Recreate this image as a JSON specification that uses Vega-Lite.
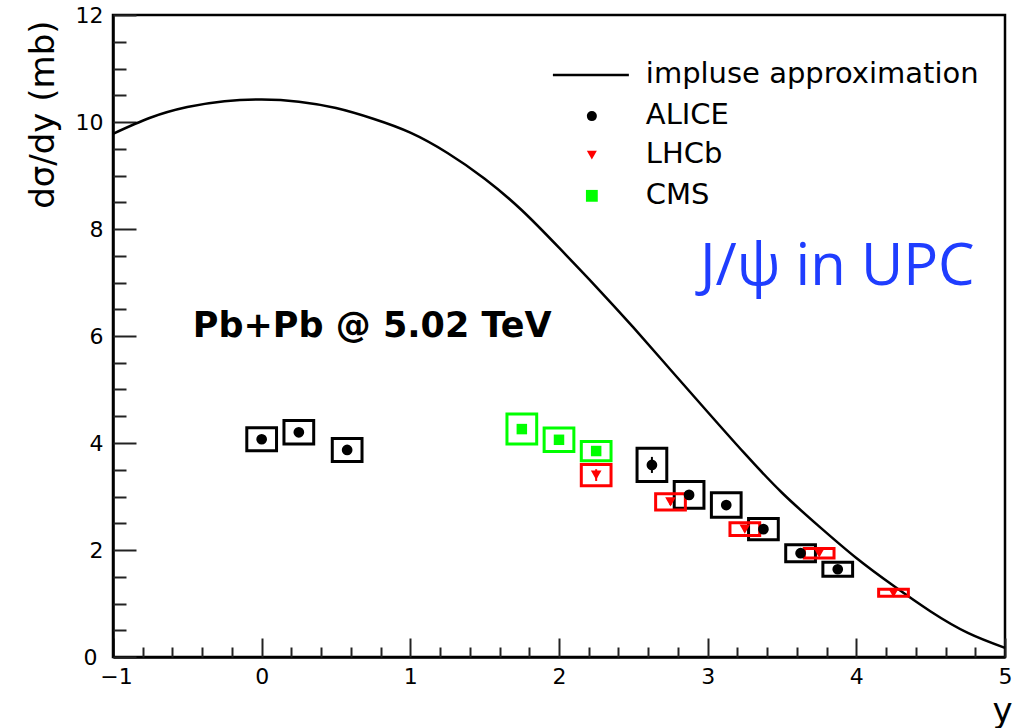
{
  "$schema": "https://vega.github.io/schema/vega-lite/v6.json",
  "width": 892,
  "height": 642,
  "autosize": {"type": "none"},
  "padding": {"left": 113, "top": 15, "right": 8, "bottom": 71},
  "background": "white",
  "config": {
    "view": {"stroke": "black", "strokeWidth": 2.5},
    "font": "DejaVu Sans",
    "axis": {"grid": false, "labelColor": "black", "titleColor": "black", "tickColor": "#222", "tickWidth": 2}
  },
  "datasets": {
    "curve": [
      {"x": -1.0, "y": 9.78}, {"x": -0.75, "y": 10.08}, {"x": -0.5, "y": 10.28}, {"x": -0.25, "y": 10.39},
      {"x": 0.0, "y": 10.42}, {"x": 0.25, "y": 10.38}, {"x": 0.5, "y": 10.26}, {"x": 0.75, "y": 10.06},
      {"x": 1.0, "y": 9.8}, {"x": 1.25, "y": 9.42}, {"x": 1.5, "y": 8.94}, {"x": 1.75, "y": 8.35},
      {"x": 2.0, "y": 7.65}, {"x": 2.25, "y": 6.92}, {"x": 2.5, "y": 6.16}, {"x": 2.75, "y": 5.37},
      {"x": 3.0, "y": 4.58}, {"x": 3.25, "y": 3.8}, {"x": 3.5, "y": 3.07}, {"x": 3.75, "y": 2.44},
      {"x": 4.0, "y": 1.85}, {"x": 4.25, "y": 1.33}, {"x": 4.5, "y": 0.85}, {"x": 4.75, "y": 0.45},
      {"x": 5.0, "y": 0.17}
    ],
    "pts": [
      {"exp": "ALICE", "x": 0.0, "y": 4.07, "xlo": -0.1, "xhi": 0.1, "ylo": 3.855, "yhi": 4.285, "slo": 3.99, "shi": 4.15},
      {"exp": "ALICE", "x": 0.25, "y": 4.2, "xlo": 0.15, "xhi": 0.35, "ylo": 3.98, "yhi": 4.42, "slo": 4.12, "shi": 4.28},
      {"exp": "ALICE", "x": 0.575, "y": 3.87, "xlo": 0.475, "xhi": 0.675, "ylo": 3.655, "yhi": 4.085, "slo": 3.79, "shi": 3.95},
      {"exp": "ALICE", "x": 2.625, "y": 3.59, "xlo": 2.525, "xhi": 2.725, "ylo": 3.28, "yhi": 3.9, "slo": 3.44, "shi": 3.74},
      {"exp": "ALICE", "x": 2.875, "y": 3.03, "xlo": 2.775, "xhi": 2.975, "ylo": 2.78, "yhi": 3.28, "slo": 2.96, "shi": 3.1},
      {"exp": "ALICE", "x": 3.125, "y": 2.84, "xlo": 3.025, "xhi": 3.225, "ylo": 2.61, "yhi": 3.07, "slo": 2.78, "shi": 2.9},
      {"exp": "ALICE", "x": 3.375, "y": 2.39, "xlo": 3.275, "xhi": 3.475, "ylo": 2.19, "yhi": 2.59, "slo": 2.34, "shi": 2.44},
      {"exp": "ALICE", "x": 3.625, "y": 1.94, "xlo": 3.525, "xhi": 3.725, "ylo": 1.78, "yhi": 2.1, "slo": 1.89, "shi": 1.99},
      {"exp": "ALICE", "x": 3.875, "y": 1.64, "xlo": 3.775, "xhi": 3.975, "ylo": 1.51, "yhi": 1.77, "slo": 1.59, "shi": 1.69},
      {"exp": "LHCb", "x": 2.25, "y": 3.4, "xlo": 2.15, "xhi": 2.35, "ylo": 3.2, "yhi": 3.6, "slo": 3.29, "shi": 3.51},
      {"exp": "LHCb", "x": 2.75, "y": 2.9, "xlo": 2.65, "xhi": 2.85, "ylo": 2.75, "yhi": 3.05, "slo": 2.84, "shi": 2.96},
      {"exp": "LHCb", "x": 3.25, "y": 2.39, "xlo": 3.15, "xhi": 3.35, "ylo": 2.27, "yhi": 2.51, "slo": 2.34, "shi": 2.44},
      {"exp": "LHCb", "x": 3.75, "y": 1.94, "xlo": 3.65, "xhi": 3.85, "ylo": 1.85, "yhi": 2.03, "slo": 1.9, "shi": 1.98},
      {"exp": "LHCb", "x": 4.25, "y": 1.2, "xlo": 4.15, "xhi": 4.35, "ylo": 1.135, "yhi": 1.265, "slo": 1.17, "shi": 1.23},
      {"exp": "CMS", "x": 1.75, "y": 4.26, "xlo": 1.65, "xhi": 1.85, "ylo": 3.98, "yhi": 4.54, "slo": 4.2, "shi": 4.32},
      {"exp": "CMS", "x": 2.0, "y": 4.06, "xlo": 1.9, "xhi": 2.1, "ylo": 3.84, "yhi": 4.28, "slo": 4.0, "shi": 4.12},
      {"exp": "CMS", "x": 2.25, "y": 3.85, "xlo": 2.15, "xhi": 2.35, "ylo": 3.67, "yhi": 4.03, "slo": 3.79, "shi": 3.91}
    ]
  },
  "layer": [
    {
      "data": {"name": "curve"},
      "mark": {"type": "line", "color": "black", "strokeWidth": 2.5, "interpolate": "natural"},
      "encoding": {
        "x": {"field": "x", "type": "quantitative", "scale": {"domain": [-1, 5], "nice": false, "zero": false},
          "axis": {"orient": "bottom", "title": "y", "values": [-1, 0, 1, 2, 3, 4, 5], "ticks": false, "labelPadding": 9,
            "labelOffset": {"condition": {"test": "datum.value == -1", "value": 3}, "value": 0},
            "labelFontSize": 22, "labelFlush": false, "labelOverlap": false, "domain": true, "domainColor": "black", "domainWidth": 2.5,
            "titleFontSize": 34, "titleFontWeight": "normal", "titleAnchor": "end", "titleAlign": "right", "titleX": 899, "titleY": 64, "titleBaseline": "alphabetic"}},
        "y": {"field": "y", "type": "quantitative", "scale": {"domain": [0, 12], "nice": false, "zero": false},
          "axis": {"orient": "left", "title": "dσ/dy (mb)", "values": [0, 2, 4, 6, 8, 10, 12], "ticks": false,
            "labelPadding": {"condition": {"test": "datum.value == 0", "value": 16}, "value": 10},
            "labelFontSize": 22, "labelFlush": false, "labelOverlap": false, "domain": true, "domainColor": "black", "domainWidth": 2.5,
            "titleFontSize": 34, "titleFontWeight": "normal", "titleAngle": 270, "titleAnchor": "end", "titleAlign": "right", "titleX": -60, "titleY": 5, "titleBaseline": "alphabetic"}}
      }
    },
    {
      "data": {"name": "pts"},
      "mark": {"type": "rect", "fillOpacity": 0, "strokeWidth": 3},
      "encoding": {
        "x": {"field": "xlo", "type": "quantitative", "scale": {"domain": [-1, 5], "nice": false, "zero": false},
          "axis": {"orient": "bottom", "title": null, "values": [-1, 0, 1, 2, 3, 4, 5], "labels": false, "domain": false, "ticks": true, "tickSize": -19}},
        "x2": {"field": "xhi"},
        "y": {"field": "ylo", "type": "quantitative", "scale": {"domain": [0, 12], "nice": false, "zero": false},
          "axis": {"orient": "left", "title": null, "values": [0, 2, 4, 6, 8, 10, 12], "labels": false, "domain": false, "ticks": true, "tickSize": -23}},
        "y2": {"field": "yhi"},
        "stroke": {"field": "exp", "type": "nominal", "scale": {"domain": ["ALICE", "LHCb", "CMS"], "range": ["black", "#ff0000", "#00ff00"]}, "legend": null}
      }
    },
    {
      "data": {"name": "pts"},
      "mark": {"type": "rule", "strokeWidth": 2},
      "encoding": {
        "x": {"field": "x", "type": "quantitative", "axis": null},
        "y": {"field": "slo", "type": "quantitative", "axis": null},
        "y2": {"field": "shi"},
        "color": {"field": "exp", "type": "nominal", "scale": {"domain": ["ALICE", "LHCb", "CMS"], "range": ["black", "#ff0000", "#00ff00"]}, "legend": null}
      }
    },
    {
      "data": {"name": "pts"},
      "mark": {"type": "point", "filled": true, "opacity": 1},
      "encoding": {
        "x": {"field": "x", "type": "quantitative", "scale": {"domain": [-1, 5], "nice": false, "zero": false},
          "axis": {"orient": "bottom", "title": null, "values": [-0.8, -0.6, -0.4, -0.2, 0.2, 0.4, 0.6, 0.8, 1.2, 1.4, 1.6, 1.8, 2.2, 2.4, 2.6, 2.8, 3.2, 3.4, 3.6, 3.8, 4.2, 4.4, 4.6, 4.8], "labels": false, "domain": false, "ticks": true, "tickSize": -10}},
        "y": {"field": "y", "type": "quantitative", "scale": {"domain": [0, 12], "nice": false, "zero": false},
          "axis": {"orient": "left", "title": null, "values": [0.5, 1, 1.5, 2.5, 3, 3.5, 4.5, 5, 5.5, 6.5, 7, 7.5, 8.5, 9, 9.5, 10.5, 11, 11.5], "labels": false, "domain": false, "ticks": true, "tickSize": -13}},
        "color": {"field": "exp", "type": "nominal", "scale": {"domain": ["ALICE", "LHCb", "CMS"], "range": ["black", "#ff0000", "#00ff00"]}, "legend": null},
        "shape": {"field": "exp", "type": "nominal", "scale": {"domain": ["ALICE", "LHCb", "CMS"], "range": ["circle", "triangle-down", "square"]}, "legend": null},
        "size": {"field": "exp", "type": "nominal", "scale": {"domain": ["ALICE", "LHCb", "CMS"], "range": [115, 110, 150]}, "legend": null}
      }
    },
    {
      "data": {"values": [{}]},
      "mark": {"type": "rule", "color": "black", "strokeWidth": 2.5},
      "encoding": {"x": {"datum": 1.959, "type": "quantitative", "axis": null}, "x2": {"datum": 2.47}, "y": {"datum": 10.88, "type": "quantitative", "axis": null}}
    },
    {
      "data": {"values": [{}]},
      "mark": {"type": "point", "filled": true, "opacity": 1, "shape": "circle", "size": 100, "color": "black"},
      "encoding": {"x": {"datum": 2.221, "type": "quantitative", "axis": null}, "y": {"datum": 10.11, "type": "quantitative", "axis": null}}
    },
    {
      "data": {"values": [{}]},
      "mark": {"type": "point", "filled": true, "opacity": 1, "shape": "triangle-down", "size": 100, "color": "#ff0000"},
      "encoding": {"x": {"datum": 2.221, "type": "quantitative", "axis": null}, "y": {"datum": 9.38, "type": "quantitative", "axis": null}}
    },
    {
      "data": {"values": [{}]},
      "mark": {"type": "point", "filled": true, "opacity": 1, "shape": "square", "size": 140, "color": "#00ff00"},
      "encoding": {"x": {"datum": 2.221, "type": "quantitative", "axis": null}, "y": {"datum": 8.62, "type": "quantitative", "axis": null}}
    },
    {
      "data": {"values": [{"label": "impluse approximation", "ty": 10.73}, {"label": "ALICE", "ty": 9.96}, {"label": "LHCb", "ty": 9.23}, {"label": "CMS", "ty": 8.47}]},
      "mark": {"type": "text", "align": "left", "baseline": "alphabetic", "fontSize": 29, "font": "DejaVu Sans", "color": "black"},
      "encoding": {"x": {"datum": 2.584, "type": "quantitative", "axis": null}, "y": {"field": "ty", "type": "quantitative", "axis": null}, "text": {"field": "label"}}
    },
    {
      "data": {"values": [{"label": "Pb+Pb @ 5.02 TeV"}]},
      "mark": {"type": "text", "align": "left", "baseline": "alphabetic", "fontSize": 35, "fontWeight": "bold", "font": "DejaVu Sans", "color": "black"},
      "encoding": {"x": {"datum": -0.463, "type": "quantitative", "axis": null}, "y": {"datum": 5.98, "type": "quantitative", "axis": null}, "text": {"field": "label"}}
    },
    {
      "data": {"values": [{"label": "J/ψ in UPC"}]},
      "mark": {"type": "text", "align": "left", "baseline": "alphabetic", "fontSize": 58, "font": "Open Sans", "color": "#1f3dff"},
      "encoding": {"x": {"datum": 2.948, "type": "quantitative", "axis": null}, "y": {"datum": 6.95, "type": "quantitative", "axis": null}, "text": {"field": "label"}}
    }
  ],
  "resolve": {"axis": {"x": "independent", "y": "independent"}}
}
